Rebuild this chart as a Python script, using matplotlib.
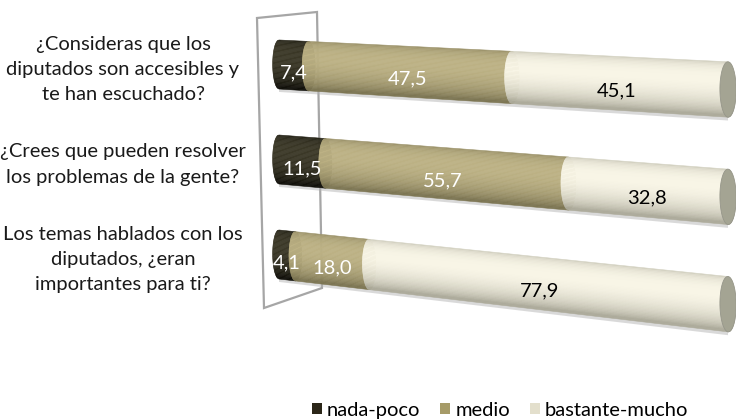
import numpy as np
import matplotlib.pyplot as plt
from matplotlib.colors import to_rgb
from matplotlib.patches import Polygon, Patch
from matplotlib.transforms import Transform

plt.rcParams['font.family'] = ['Lato', 'DejaVu Sans']

questions = [
    "¿Consideras que los\ndiputados son accesibles y\nte han escuchado?",
    "¿Crees que pueden resolver\nlos problemas de la gente?",
    "Los temas hablados con los\ndiputados, ¿eran\nimportantes para ti?",
]
series = ["nada-poco", "medio", "bastante-mucho"]
nada_poco = [7.4, 11.5, 4.1]
medio = [47.5, 55.7, 18.0]
bastante_mucho = [45.1, 32.8, 77.9]

# cylinder shading: (shadow side, highlight) per series
dark = ['#0f0e08', '#7a7350', '#a9a797']
light = ['#3b3827', '#bcb184', '#f8f5e6']
swatch = ['#2b2618', '#a69b68', '#e3dfcc']
text_color = ['white', 'white', 'black']
face_color = '#a4a493'
wall_color = '#a6a6a6'
FS = 14.5

# perspective projection of (value, row) onto the canvas
X0, AX, C = 279.0, 3.653, -0.00115
Y0, AY, ROW = 64.5, 0.147, 95.0
HALF = 0.258      # half thickness of a cylinder, in rows
CAP = 1.6         # half width of the end ellipses, in value units
N_STRIPS = 40


class Perspective(Transform):
    input_dims = output_dims = 2
    is_separable = False
    has_inverse = False

    def transform_non_affine(self, values):
        values = np.asarray(values, dtype=float)
        v, r = values[:, 0], values[:, 1]
        w = 1 + C * v
        return np.column_stack([(AX * v + X0) / w, (AY * v + ROW * r + Y0) / w])


def shade(i, t):
    # light falling from the upper front onto the cylinder
    k = np.clip(-0.35 * t + 0.94 * np.sqrt(max(0.0, 1 - t * t)), 0.05, 1.0)
    d = np.array(to_rgb(dark[i]))
    l = np.array(to_rgb(light[i]))
    return d + (l - d) * k


def arc(v, t, side):
    return v + side * CAP * np.sqrt(np.clip(1 - t * t, 0, 1))


fig = plt.figure(figsize=(7.36, 4.19), dpi=100)
ax = fig.add_axes([0, 0, 1, 1])
ax.set_xlim(0, 736)
ax.set_ylim(419, 0)
ax.axis('off')
persp = Perspective() + ax.transData

# back wall of the plot box
wall = [(257, 18), (317, 12), (322, 288), (264, 308)]
ax.add_patch(Polygon(wall, closed=True, fill=False, edgecolor=wall_color,
                     lw=1.6, zorder=1))

values = np.array([nada_poco, medio, bastante_mucho])
edges = np.linspace(-1, 1, N_STRIPS + 1)

for r in range(len(questions)):
    # soft shadow under the cylinder
    ts = np.linspace(0.9, 1.12, 8)
    sh = [(arc(0, t, -1), r + t * HALF) for t in ts] + \
         [(arc(100, t, 1), r + t * HALF) for t in ts[::-1]]
    ax.add_patch(Polygon(sh, closed=True, facecolor='#b5b5b5', edgecolor='none',
                         alpha=0.5, transform=persp, zorder=2))
    start = 0.0
    for i in range(len(series)):
        end = start + values[i, r]
        for ta, tb in zip(edges[:-1], edges[1:]):
            tt = np.linspace(ta, tb, 3)
            pts = [(arc(start, t, -1), r + t * HALF) for t in tt] + \
                  [(arc(end, t, 1), r + t * HALF) for t in tt[::-1]]
            col = shade(i, (ta + tb) / 2)
            ax.add_patch(Polygon(pts, closed=True, facecolor=col, edgecolor=col,
                                 lw=0.4, transform=persp, zorder=3 + i))
        ax.text((start + end) / 2, r + 0.075, f"{values[i, r]:.1f}".replace('.', ','),
                transform=persp, ha='center', va='center', fontsize=FS,
                color=text_color[i], zorder=10)
        start = end
    # visible end face on the right
    phi = np.linspace(0, 2 * np.pi, 60)
    face = np.column_stack([start + CAP * np.cos(phi), r + HALF * np.sin(phi)])
    ax.add_patch(Polygon(face, closed=True, facecolor=face_color,
                         edgecolor='#96968a', lw=0.6, transform=persp, zorder=8))

for r, q in enumerate(questions):
    x, y = Perspective().transform(np.array([[0.0, r]]))[0]
    ax.text(123, y + 5, q, ha='center', va='center', fontsize=FS,
            linespacing=1.6, color='#1a1a1a')

handles = [Patch(facecolor=c, edgecolor='none') for c in swatch]
fig.legend(handles, series, loc='center', bbox_to_anchor=(500 / 736, 1 - 410 / 419),
           ncol=3, frameon=False, fontsize=FS, handlelength=0.5, handleheight=0.5,
           handletextpad=0.25, columnspacing=1.0, borderaxespad=0)

fig.savefig('out.png', dpi=100)
